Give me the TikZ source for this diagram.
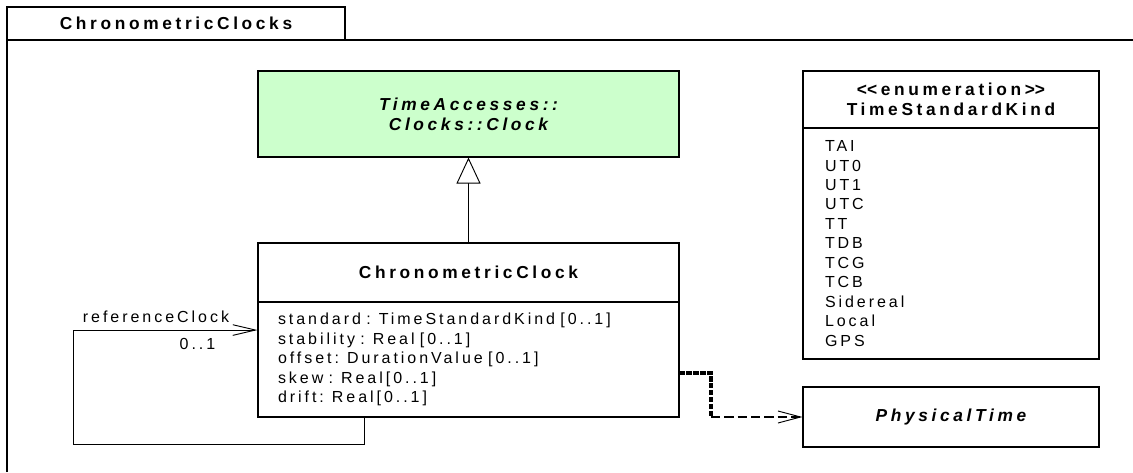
\documentclass[tikz,border=0pt]{standalone}
\usepackage{fontspec}
\setmainfont{Liberation Sans}
\newfontfamily\attrfont{Liberation Sans}[LetterSpace=18.5]
\newfontfamily\namefont{Liberation Sans}[LetterSpace=21]
\usepackage{xcolor}
\usetikzlibrary{arrows.meta}
\definecolor{clockgreen}{HTML}{CCFFCC}
\newcommand{\namestyle}{\namefont\bfseries\fontsize{13}{15}\selectfont}
\newcommand{\attrstyle}{\attrfont\fontsize{12}{14.6}\selectfont}

\tikzset{
  classbox/.style={draw,line width=0.8pt,inner sep=0pt,minimum width=315.75pt},
  enumbox/.style={draw,line width=0.8pt,inner sep=0pt,minimum width=222pt},
  titletext/.style={font=\namestyle,align=center},
  attrtext/.style={font=\attrstyle,align=left},
  assoc/.style={line width=0.7pt,-{Straight Barb[length=17pt,width=8pt,line width=0.7pt]}},
  inherit/.style={line width=0.7pt,-{Triangle[open,length=19.5pt,width=18pt,line width=0.7pt,fill=white]}},
  depthick/.style={line width=2.4pt,dash pattern=on 4pt off 1.2pt},
  dep/.style={line width=0.8pt,dash pattern=on 7pt off 3pt,-{Straight Barb[length=17pt,width=9pt,line width=0.7pt]}}
}

\begin{document}
\begin{tikzpicture}[x=0.75pt,y=-0.75pt,>=Stealth]
  \useasboundingbox (0,0) rectangle (1133,472);
  % package frame
  \node[draw,line width=0.9pt,minimum width=253.5pt,minimum height=24.75pt,inner sep=0pt,titletext] (pkgTab) at (176,23.5) {ChronometricClocks};
  \draw[line width=0.9pt] (7,472) -- (7,40) -- (1133,40);

  % classes
  \node[classbox,fill=clockgreen,minimum height=64.5pt,titletext,font=\namestyle\itshape] (clock) at (468.5,114) {TimeAccesses::\\Clocks::Clock};
  \node[classbox,minimum height=44.25pt,titletext] (chronoHead) at (468.5,272.5) {ChronometricClock};
  \node[classbox,minimum height=86.25pt,attrtext,text width=285.75pt,inner xsep=15pt] (chronoBody) at (468.5,359.5)
    {standard : TimeStandardKind [0..1]\\
     stability : Real [0..1]\\
     offset: DurationValue [0..1]\\
     skew : Real[0..1]\\
     drift: Real[0..1]};

  \node[enumbox,minimum height=42.75pt,titletext] (kindHead) at (951,99.5) {<\kern0pt<enumeration>\kern0pt>\\TimeStandardKind};
  \node[enumbox,minimum height=173.25pt,attrtext,text width=189pt,inner xsep=16.5pt] (kindBody) at (951,243.5)
    {TAI\\UT0\\UT1\\UTC\\TT\\TDB\\TCG\\TCB\\Sidereal\\Local\\GPS};

  \node[enumbox,minimum height=45pt,titletext,font=\namestyle\itshape] (physTime) at (951,417) {PhysicalTime};

  % generalization
  \draw[inherit] (chronoHead.north) -- (clock.south);

  % referenceClock self association
  \coordinate (loopCorner) at (73,444);
  \draw[assoc] ([xshift=-78.4pt]chronoBody.south) |- (loopCorner) |- ([yshift=22.1pt]chronoBody.west);
  \node[font=\attrstyle] (refRole) at (156,317) {referenceClock};
  \node[font=\attrstyle] (refMult) at (197.5,344) {0..1};

  % dependency
  \coordinate (depBend) at (711,417);
  \draw[depthick] ([yshift=-10.1pt]chronoBody.east) -| (depBend);
  \draw[dep] (depBend) -- (physTime.west);
\end{tikzpicture}
\end{document}
